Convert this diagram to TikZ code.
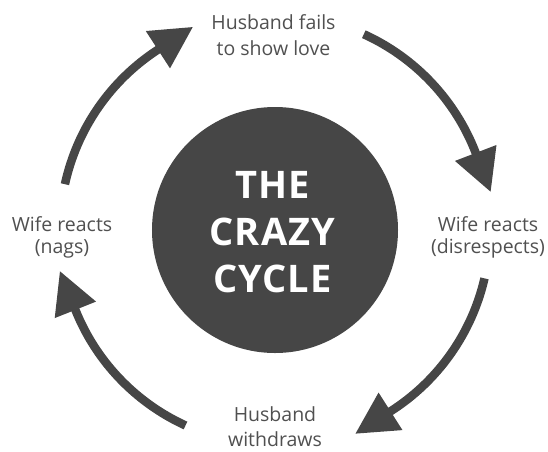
\documentclass[tikz,border=0pt]{standalone}
\usepackage{fontspec}
\setmainfont{Open Sans}
\usetikzlibrary{arrows.meta,calc}
\definecolor{cycdark}{HTML}{464646}
\definecolor{cyctext}{HTML}{505050}
\tikzset{
  cycarrow/.style={draw=cycdark, line width=8.5pt,
    -{Triangle[length=42pt,width=42pt]}},
  toplabel/.style={text=cyctext, align=center, anchor=base, inner sep=0pt,
    font=\fontsize{19.5}{26.2}\selectfont},
  botlabel/.style={text=cyctext, align=center, anchor=base, inner sep=0pt,
    font=\fontsize{19.5}{25}\selectfont},
  sidelabel/.style={text=cyctext, align=center, anchor=base, inner sep=0pt,
    font=\fontsize{19.5}{21.7}\selectfont},
  hub/.style={circle, fill=cycdark, minimum size=246pt, inner sep=0pt},
  hubtext/.style={text=white, align=center, anchor=base, inner sep=0pt,
    font=\fontsize{38}{47.3}\selectfont\bfseries\addfontfeatures{LetterSpace=3}}
}
\begin{document}
\begin{tikzpicture}[x=1pt,y=1pt]
\useasboundingbox (-275,-221) rectangle (273,230);
\node[hub] (hub) at (0,0) {};
\node[hubtext] (title) at (-2.5,-62.7) {THE\\CRAZY\\CYCLE};
\node[toplabel] (top) at (-1.5,174.5) {Husband fails\\to show love};
\node[sidelabel] (right) at (213,-23.4) {Wife reacts\\(disrespects)};
\node[botlabel] (bottom) at (0,-216.5) {Husband\\withdraws};
\node[sidelabel] (left) at (-213,-23.4) {Wife reacts\\(nags)};
% arrow end points
\coordinate (t1) at (65.6:215pt);
\coordinate (t2) at (-13:215pt);
\coordinate (t3) at (245.4:215pt);
\coordinate (t4) at (167.7:215pt);
\coordinate (p1) at ($(21:215pt)+(-69:42pt)$);
\coordinate (p2) at ($(-57.5:215pt)+(-147.5:42pt)$);
\coordinate (p3) at ($(201.8:215pt)+(111.8:42pt)$);
\coordinate (p4) at ($(123:215pt)+(33:42pt)$);
\draw[cycarrow] (t1) arc[start angle=65.6, end angle=21, radius=215pt] -- (p1);
\draw[cycarrow] (t2) arc[start angle=-13, end angle=-57.5, radius=215pt] -- (p2);
\draw[cycarrow] (t3) arc[start angle=245.4, end angle=201.8, radius=215pt] -- (p3);
\draw[cycarrow] (t4) arc[start angle=167.7, end angle=123, radius=215pt] -- (p4);
\end{tikzpicture}
\end{document}
